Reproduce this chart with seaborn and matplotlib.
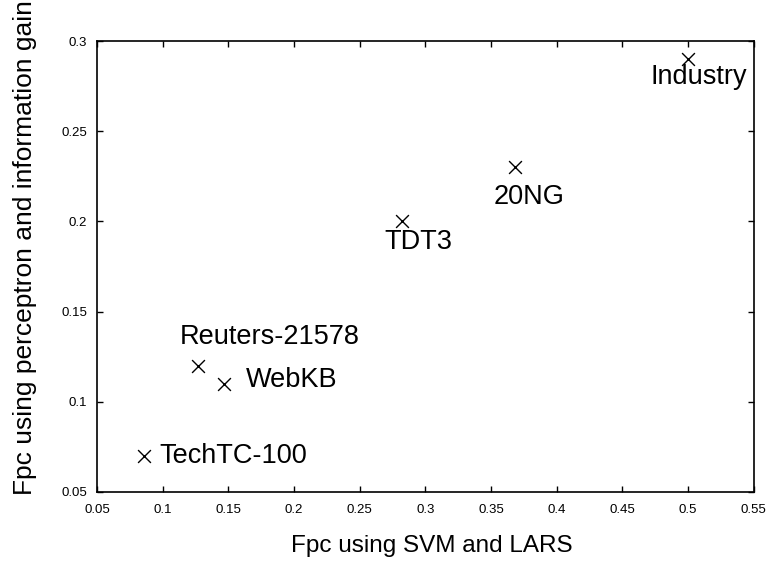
import matplotlib
matplotlib.use("Agg")
import matplotlib.pyplot as plt
import seaborn as sns
import pandas as pd

datasets = ["Industry", "20NG", "TDT3", "Reuters-21578", "WebKB", "TechTC-100"]
fpc_svm_lars = [0.500, 0.368, 0.282, 0.127, 0.147, 0.086]
fpc_perceptron_ig = [0.290, 0.230, 0.200, 0.120, 0.110, 0.070]

xticks = [0.05, 0.1, 0.15, 0.2, 0.25, 0.3, 0.35, 0.4, 0.45, 0.5, 0.55]
xticklabels = ["0.05", "0.1", "0.15", "0.2", "0.25", "0.3", "0.35", "0.4", "0.45", "0.5", "0.55"]
yticks = [0.05, 0.1, 0.15, 0.2, 0.25, 0.3]
yticklabels = ["0.05", "0.1", "0.15", "0.2", "0.25", "0.3"]

# label offsets in pixels (dx, dy) and alignment
label_pos = {
    "Industry": (11, -18, "center"),
    "20NG": (14, -30, "center"),
    "TDT3": (17, -21, "center"),
    "Reuters-21578": (72, 29, "center"),
    "WebKB": (21, 4, "left"),
    "TechTC-100": (15, 0, "left"),
}

sns.set_theme(style="white")
plt.rcParams["font.family"] = ["Liberation Sans", "DejaVu Sans"]

df = pd.DataFrame({"x": fpc_svm_lars, "y": fpc_perceptron_ig, "name": datasets})

fig = plt.figure(figsize=(7.7, 5.64), dpi=100)
ax = fig.add_axes([0.126, 0.128, 0.853, 0.799])

sns.scatterplot(data=df, x="x", y="y", marker="x", color="black", s=85,
                linewidth=1.0, ax=ax, legend=False)

for name, xv, yv in zip(datasets, fpc_svm_lars, fpc_perceptron_ig):
    dx, dy, ha = label_pos[name]
    ax.annotate(name, (xv, yv), xytext=(dx, dy), textcoords="offset pixels",
                ha=ha, va="center", fontsize=19.5, color="black")

ax.set_xlim(0.05, 0.55)
ax.set_ylim(0.05, 0.3)
ax.set_xticks(xticks)
ax.set_xticklabels(xticklabels)
ax.set_yticks(yticks)
ax.set_yticklabels(yticklabels)
ax.tick_params(direction="in", length=4, width=1, colors="black",
               labelsize=9.5, top=True, right=True, bottom=True, left=True)
ax.tick_params(axis="x", pad=9)
ax.tick_params(axis="y", pad=7)
for sp in ax.spines.values():
    sp.set_visible(True)
    sp.set_color("black")
    sp.set_linewidth(1.2)

ax.set_xlabel("Fpc using SVM and LARS", fontsize=17.5, color="black")
ax.xaxis.set_label_coords(0.51, -0.095)
ax.set_ylabel("Fpc using perceptron and information gain", fontsize=19, color="black")
ax.yaxis.set_label_coords(-0.092, 0.541)

fig.savefig("out.png", dpi=100, facecolor="white")
